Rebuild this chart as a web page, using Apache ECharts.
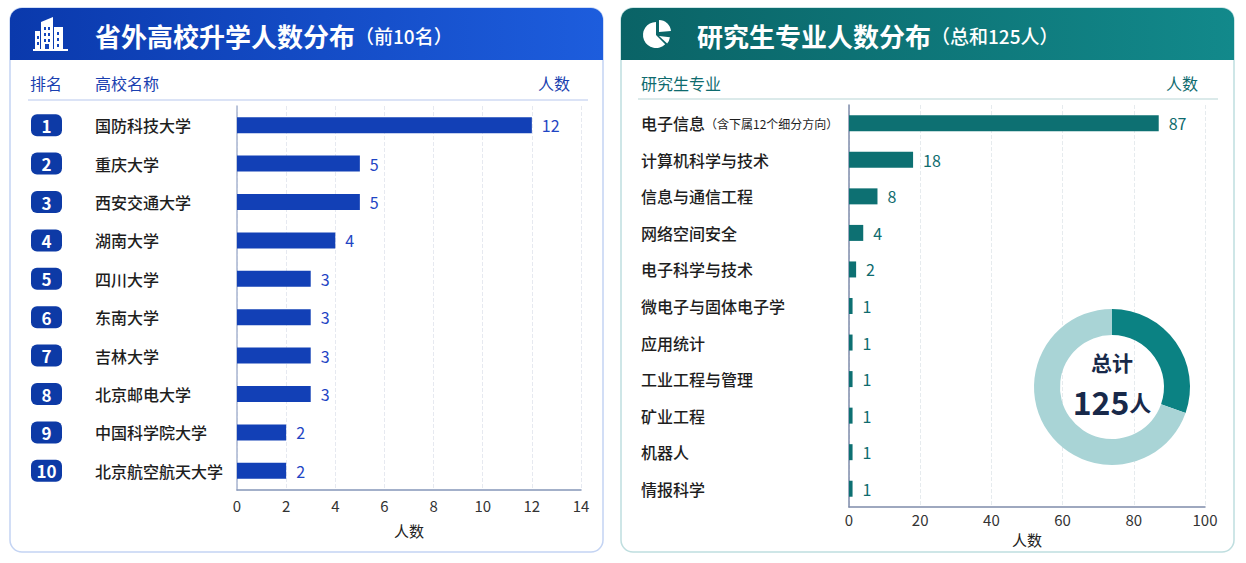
<!DOCTYPE html>
<html>
<head>
<meta charset="utf-8">
<title>升学人数分布</title>
<script src="https://cdn.jsdelivr.net/npm/echarts@6/dist/echarts.min.js"></script>
<style>
  html, body { margin: 0; padding: 0; background: #fff; }
  #main { width: 1246px; height: 563px; }
</style>
</head>
<body>
<div id="main"></div>
<script>
// 数据
var schools = ['国防科技大学', '重庆大学', '西安交通大学', '湖南大学', '四川大学', '东南大学', '吉林大学', '北京邮电大学', '中国科学院大学', '北京航空航天大学'];
var schoolCounts = [12, 5, 5, 4, 3, 3, 3, 3, 2, 2];
var majors = ['电子信息', '计算机科学与技术', '信息与通信工程', '网络空间安全', '电子科学与技术', '微电子与固体电子学', '应用统计', '工业工程与管理', '矿业工程', '机器人', '情报科学'];
var majorCounts = [87, 18, 8, 4, 2, 1, 1, 1, 1, 1, 1];
var majorNote = '（含下属12个细分方向）';
var schoolAxis = { max: 14, interval: 2 };
var majorAxis = { max: 100, interval: 20 };

var FONT = '"Noto Sans CJK SC", "Noto Sans", sans-serif';
var BLUE = '#1240b6';
var TEAL = '#0d7072';

var total = majorCounts.reduce(function (a, b) { return a + b; }, 0);
var others = total - majorCounts[0];

var myChart = echarts.init(document.getElementById('main'), null, { renderer: 'svg' });

// 左侧图标：楼
var building = {
    type: 'group',
    children: [
        { type: 'polygon', shape: { points: [[41, 22], [53, 17], [53, 49], [41, 49]] }, style: { fill: '#fff' } },
        { type: 'rect', shape: { x: 54, y: 27, width: 9, height: 22 }, style: { fill: '#fff' } },
        { type: 'rect', shape: { x: 35, y: 31, width: 5, height: 18 }, style: { fill: '#fff' } },
        { type: 'rect', shape: { x: 33, y: 49, width: 35, height: 2 }, style: { fill: '#fff' } }
    ]
};
[[44, 27], [48, 27], [44, 33], [48, 33], [44, 39], [48, 39], [57, 32], [57, 38], [57, 44], [37, 36], [37, 42]].forEach(function (p) {
    building.children.push({ type: 'rect', shape: { x: p[0], y: p[1], width: 2, height: 3 }, style: { fill: '#1446bd' } });
});
building.children.push({ type: 'rect', shape: { x: 45, y: 44, width: 4, height: 5 }, style: { fill: '#1446bd' } });

// 右侧图标：饼
var pieIcon = {
    type: 'group',
    children: [
        { type: 'sector', shape: { cx: 656, cy: 35, r: 13, r0: 0, startAngle: Math.PI / 4, endAngle: Math.PI * 1.5, clockwise: true }, style: { fill: '#fff' } },
        { type: 'sector', shape: { cx: 659, cy: 32, r: 12, r0: 0, startAngle: -Math.PI / 2, endAngle: -0.08, clockwise: true }, style: { fill: '#fff' } },
        { type: 'sector', shape: { cx: 659, cy: 36, r: 11, r0: 0, startAngle: 0.12, endAngle: Math.PI / 4 - 0.05, clockwise: true }, style: { fill: '#fff' } }
    ]
};

var option = {
    textStyle: { fontFamily: FONT },
    animation: false,
    graphic: [
        // 左卡片
        { type: 'rect', shape: { x: 10, y: 8, width: 593, height: 544, r: 12 }, style: { fill: '#fff', stroke: '#c4d4f3', lineWidth: 1.5 }, z: -10 },
        { type: 'rect', shape: { x: 10, y: 8, width: 593, height: 52, r: [12, 12, 0, 0] },
          style: { fill: new echarts.graphic.LinearGradient(0, 0, 1, 0, [{ offset: 0, color: '#0a39ac' }, { offset: 1, color: '#1d5ddd' }]) }, z: -9 },
        building,
        { type: 'text', x: 95, y: 35, style: { text: '{a|省外高校升学人数分布}{b|（前10名）}', verticalAlign: 'middle',
            rich: { a: { fontSize: 26, fontWeight: 'bold', fill: '#fff', fontFamily: FONT }, b: { fontSize: 19, fontWeight: 500, fill: '#fff', fontFamily: FONT } } } },
        { type: 'text', x: 30, y: 83, style: { text: '排名', fontSize: 16, fill: '#1a3fb0', verticalAlign: 'middle', fontFamily: FONT } },
        { type: 'text', x: 95, y: 83, style: { text: '高校名称', fontSize: 16, fill: '#1a3fb0', verticalAlign: 'middle', fontFamily: FONT } },
        { type: 'text', x: 570, y: 83, style: { text: '人数', fontSize: 16, fill: '#1a3fb0', align: 'right', verticalAlign: 'middle', fontFamily: FONT } },
        { type: 'line', shape: { x1: 28, y1: 100, x2: 588, y2: 100 }, style: { stroke: '#cfdaf3', lineWidth: 1.5 } },

        // 右卡片
        { type: 'rect', shape: { x: 621, y: 8, width: 613, height: 544, r: 12 }, style: { fill: '#fff', stroke: '#bfdedf', lineWidth: 1.5 }, z: -10 },
        { type: 'rect', shape: { x: 621, y: 8, width: 613, height: 52, r: [12, 12, 0, 0] },
          style: { fill: new echarts.graphic.LinearGradient(0, 0, 1, 0, [{ offset: 0, color: '#0a6366' }, { offset: 1, color: '#12898b' }]) }, z: -9 },
        pieIcon,
        { type: 'text', x: 697, y: 35, style: { text: '{a|研究生专业人数分布}{b|（总和' + total + '人）}', verticalAlign: 'middle',
            rich: { a: { fontSize: 26, fontWeight: 'bold', fill: '#fff', fontFamily: FONT }, b: { fontSize: 19, fontWeight: 500, fill: '#fff', fontFamily: FONT } } } },
        { type: 'text', x: 641, y: 83, style: { text: '研究生专业', fontSize: 16, fill: '#0e6b6e', verticalAlign: 'middle', fontFamily: FONT } },
        { type: 'text', x: 1198, y: 83, style: { text: '人数', fontSize: 16, fill: '#0e6b6e', align: 'right', verticalAlign: 'middle', fontFamily: FONT } },
        { type: 'line', shape: { x1: 638, y1: 99, x2: 1218, y2: 99 }, style: { stroke: '#cfe3e3', lineWidth: 1.5 } },

        // 环形图中心文字
        { type: 'text', x: 1112, y: 362, z: 20, style: { text: '总计', fontSize: 21, fontWeight: 'bold', fill: '#18294a', align: 'center', verticalAlign: 'middle', fontFamily: FONT } },
        { type: 'text', x: 1112, y: 401, z: 20, style: { text: '{n|' + total + '}{u|人}', align: 'center', verticalAlign: 'middle',
            rich: { n: { fontSize: 32, fontWeight: 'bold', fill: '#18294a', fontFamily: FONT }, u: { fontSize: 22, fontWeight: 'bold', fill: '#18294a', fontFamily: FONT } } } }
    ],
    grid: [
        { left: 237, top: 106, width: 344, height: 384 },
        { left: 849, top: 105, width: 356, height: 402 }
    ],
    xAxis: [
        {
            gridIndex: 0, type: 'value', min: 0, max: schoolAxis.max, interval: schoolAxis.interval,
            name: '人数', nameLocation: 'middle', nameGap: 33,
            nameTextStyle: { fontSize: 15, color: '#222', fontFamily: FONT },
            axisLine: { show: true, lineStyle: { color: '#8596b8', width: 1.5 } },
            axisTick: { show: false },
            axisLabel: { fontSize: 15, color: '#333', margin: 8 },
            splitLine: { show: true, lineStyle: { type: 'dashed', color: '#e6e9f0' } }
        },
        {
            gridIndex: 1, type: 'value', min: 0, max: majorAxis.max, interval: majorAxis.interval,
            name: '人数', nameLocation: 'middle', nameGap: 25,
            nameTextStyle: { fontSize: 15, color: '#222', fontFamily: FONT },
            axisLine: { show: true, lineStyle: { color: '#7f8cab', width: 1.5 } },
            axisTick: { show: false },
            axisLabel: { fontSize: 15, color: '#333', margin: 5 },
            splitLine: { show: true, lineStyle: { type: 'dashed', color: '#e6ebee' } }
        }
    ],
    yAxis: [
        {
            gridIndex: 0, type: 'category', data: schools, inverse: true,
            axisLine: { show: true, lineStyle: { color: '#a8b4d0', width: 1.5 } },
            axisTick: { show: false },
            axisLabel: {
                align: 'left', margin: 206,
                formatter: function (v, i) { return '{badge|' + (i + 1) + '}{name|' + v + '}'; },
                rich: {
                    badge: { width: 31, height: 22, align: 'center', backgroundColor: '#0d3aa6', borderRadius: 6,
                             color: '#fff', fontSize: 17, fontWeight: 'bold', fontFamily: FONT },
                    name: { fontSize: 16, fontWeight: 500, color: '#1e1e1e', padding: [0, 0, 0, 33], fontFamily: FONT }
                }
            }
        },
        {
            gridIndex: 1, type: 'category', data: majors, inverse: true,
            axisLine: { show: true, lineStyle: { color: '#7f8cab', width: 1.5 } },
            axisTick: { show: false },
            axisLabel: {
                align: 'left', margin: 208,
                formatter: function (v, i) { return i === 0 ? '{name|' + v + '}{note|' + majorNote + '}' : '{name|' + v + '}'; },
                rich: {
                    name: { fontSize: 16, fontWeight: 500, color: '#1e1e1e', fontFamily: FONT },
                    note: { fontSize: 12, color: '#1e1e1e', fontFamily: FONT }
                }
            }
        }
    ],
    series: [
        {
            name: '高校', type: 'bar', xAxisIndex: 0, yAxisIndex: 0, data: schoolCounts, barWidth: 16,
            itemStyle: { color: BLUE },
            label: { show: true, position: 'right', distance: 10, color: '#1f45c4', fontSize: 16 }
        },
        {
            name: '专业', type: 'bar', xAxisIndex: 1, yAxisIndex: 1, data: majorCounts, barWidth: 16,
            itemStyle: { color: TEAL },
            label: { show: true, position: 'right', distance: 10, color: '#0e6b6e', fontSize: 16 }
        },
        {
            name: '占比', type: 'pie', center: [1112, 387], radius: [52, 78], startAngle: 90, clockwise: true,
            silent: true, z: 10, label: { show: false }, labelLine: { show: false },
            data: [
                { name: '其他专业', value: others, itemStyle: { color: '#0b8283' } },
                { name: majors[0], value: majorCounts[0], itemStyle: { color: '#a9d4d6' } }
            ]
        }
    ]
};

myChart.setOption(option);
</script>
</body>
</html>
